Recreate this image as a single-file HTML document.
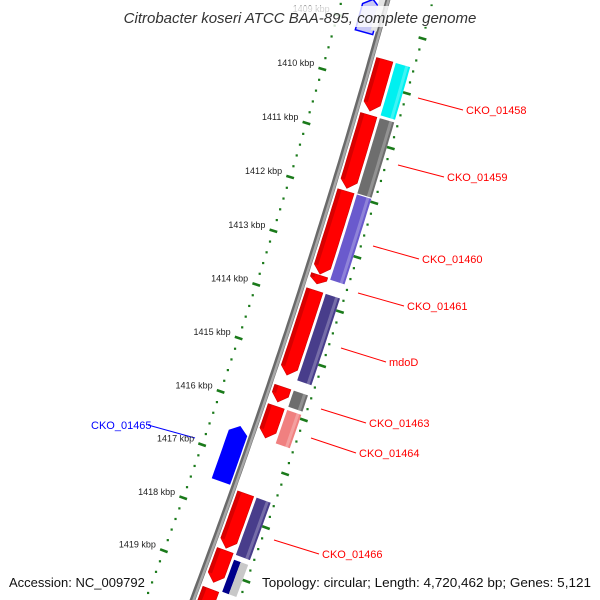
<!DOCTYPE html>
<html><head><meta charset="utf-8"><style>
html,body{margin:0;padding:0;background:#fff;overflow:hidden;}
svg{display:block;font-family:"Liberation Sans",sans-serif;}
</style></head><body>
<svg id="map" width="600" height="600" viewBox="0 0 600 600" xmlns="http://www.w3.org/2000/svg">
<rect width="600" height="600" fill="#fff"/>
<g id="rings"></g>
<g id="backbone"></g>
<g id="genes"></g>
<g id="labels"></g>
<g id="kbp"></g>
<rect x="112" y="6" width="376" height="21" fill="#fff" opacity="0.8"/>
<text x="300" y="23" text-anchor="middle" font-size="15" font-style="italic" fill="#333">Citrobacter koseri ATCC BAA-895, complete genome</text>
<text x="9" y="587" font-size="13" fill="#111">Accession: NC_009792</text>
<text x="262" y="587" font-size="13" fill="#111" textLength="329" lengthAdjust="spacingAndGlyphs">Topology: circular; Length: 4,720,462 bp; Genes: 5,121</text>
</svg>
<script>
const tickKbp=[1409,1410,1411,1412,1413,1414,1415,1416,1417,1418,1419];
const fwdStart=[1409.54,1410.55,1411.95,1413.5,1413.78,1415.57,1415.93,1417.56,1418.62,1419.35];
const fwdEnd=[1410.48,1411.9,1413.48,1413.66,1415.35,1415.85,1416.52,1418.58,1419.22,1420.3];
const cdsStart=[1409.54,1410.55,1411.95,1413.78,1415.57,1415.93,1417.56,1418.72];
const cdsEnd=[1410.5,1411.93,1413.52,1415.38,1415.87,1416.55,1418.63,1419.32];
const cdsColor=["#00f0f0","#6e6e6e","#6a5acd","#483d8b","#6e6e6e","#f08080","#483d8b","split"];
const revStart=[1408.57,1416.48];
const revEnd=[1409.17,1417.49];
const revFill=["#c8c8f4","#0000ff"];
const labelText=["CKO_01458","CKO_01459","CKO_01460","CKO_01461","mdoD","CKO_01463","CKO_01464","CKO_01465","CKO_01466"];
const labelColor=["red","red","red","red","red","red","red","blue","red"];
const labelXY=[[466,114,418,98],[447,181,398,165],[422,263,373,246],[407,310,358,293],[389,366,341,348],[369,427,321,409],[359,457,311,438],[91,429,195,438],[322,558,274,540]];

const NS="http://www.w3.org/2000/svg";
const CX=-6339.5,CY=-1854.8,R=6978,T0=0.28113,S=0.008128;
function pt(k,off){const t=T0+(k-1410)*S,r=R+off;return [CX+r*Math.cos(t),CY+r*Math.sin(t)];}
function mk(tag,attrs,parent){const e=document.createElementNS(NS,tag);for(const a in attrs)e.setAttribute(a,attrs[a]);parent.appendChild(e);return e;}
function ps(arr){return arr.map(p=>p[0].toFixed(1)+","+p[1].toFixed(1)).join(" ");}
function arcPts(k1,k2,off){const n=Math.max(2,Math.ceil((k2-k1)*8));const a=[];for(let i=0;i<=n;i++)a.push(pt(k1+(k2-k1)*i/n,off));return a;}

const rings=document.getElementById('rings');
[-44,44].forEach(off=>{
  for(let i=0;i<=65;i++){
    const kk=1408+i*0.2;
    if(i%5===0){
      const a=pt(kk,off-4),b=pt(kk,off+4);
      const l=mk('line',{x1:a[0],y1:a[1],x2:b[0],y2:b[1],stroke:"#1a7a1a","stroke-width":2.6},rings);
      
      
    } else {
      const p=pt(kk,off);
      const d=mk('rect',{x:p[0]-1.1,y:p[1]-1.1,width:2.2,height:2.2,fill:"#1a7a1a"},rings);
      
      
    }
  }
});

const bb=document.getElementById('backbone');
const b1=mk('polyline',{points:ps(arcPts(1407.5,1421.5,0)),fill:"none",stroke:"#6a6a6a","stroke-width":5.5},bb);


const b2=mk('polyline',{points:ps(arcPts(1407.5,1421.5,1)),fill:"none",stroke:"#a8a8a8","stroke-width":2.5},bb);



const genes=document.getElementById('genes');
for(let i=0;i<fwdStart.length;i++){
  const k1=fwdStart[i],k2=fwdEnd[i],a=5,b=22,h=Math.min(0.14,(k2-k1)*0.6);
  const poly=[...arcPts(k1,k2-h,a),pt(k2,(a+b)/2),...arcPts(k1,k2-h,b).reverse()];
  const g=mk('polygon',{points:ps(poly),fill:"#ff0000",stroke:"#d00000","stroke-width":0.6},genes);
  
  
  const hl=mk('polygon',{points:ps([...arcPts(k1,k2-h,5),...arcPts(k1,k2-h,9).reverse()]),fill:"#c00000",opacity:0.6},genes);
  
  
}
for(let i=0;i<cdsStart.length;i++){
  const k1=cdsStart[i],k2=cdsEnd[i];
  if(cdsColor[i]==="split"){
    const r1=mk('polygon',{points:ps([...arcPts(k1,k2,25),...arcPts(k1,k2,32).reverse()]),fill:"#00008b"},genes);
    
    
    const r2=mk('polygon',{points:ps([...arcPts(k1,k2,32),...arcPts(k1,k2,40).reverse()]),fill:"#c8c8c8"},genes);
    
    
  } else {
    const r=mk('polygon',{points:ps([...arcPts(k1,k2,25),...arcPts(k1,k2,40).reverse()]),fill:cdsColor[i]},genes);
    
    
    const s=mk('polygon',{points:ps([...arcPts(k1,k2,35),...arcPts(k1,k2,38).reverse()]),fill:"#fff",opacity:0.25},genes);
    
    
  }
}
for(let i=0;i<revStart.length;i++){
  const k1=revStart[i],k2=revEnd[i],a=-5,b=-23,h=0.12;
  const poly=[pt(k1,(a+b)/2),...arcPts(k1+h,k2,a),...arcPts(k1+h,k2,b).reverse()];
  const g=mk('polygon',{points:ps(poly),fill:revFill[i],stroke:"#0000ff","stroke-width":1.5},genes);
  
  
}
const ts=mk('polygon',{points:ps([...arcPts(1408.5,1409.1,-2),...arcPts(1408.5,1409.1,-8).reverse()]),fill:"#e4e4e4"},genes);



const lab=document.getElementById('labels');
for(let i=0;i<labelText.length;i++){
  const [tx,ty,lx,ly]=labelXY[i];
  const isLeft=tx<lx;
  const ex=isLeft?tx+57:tx-3, ey=ty-4;
  const ln=mk('line',{x1:lx,y1:ly,x2:ex,y2:ey,stroke:labelColor[i],"stroke-width":1},lab);
  
  
  const t=mk('text',{x:tx,y:ty,"font-size":11,fill:labelColor[i]},lab);
  t.textContent=labelText[i];
  
  
}
const kg=document.getElementById('kbp');
tickKbp.forEach(k=>{
  const p=pt(k,-44);
  const t=mk('text',{x:(p[0]-8).toFixed(1),y:(p[1]-3).toFixed(1),"text-anchor":"end","font-size":9,fill:"#222"},kg);
  t.textContent=k+" kbp";
  
  
});
</script>
</body></html>
